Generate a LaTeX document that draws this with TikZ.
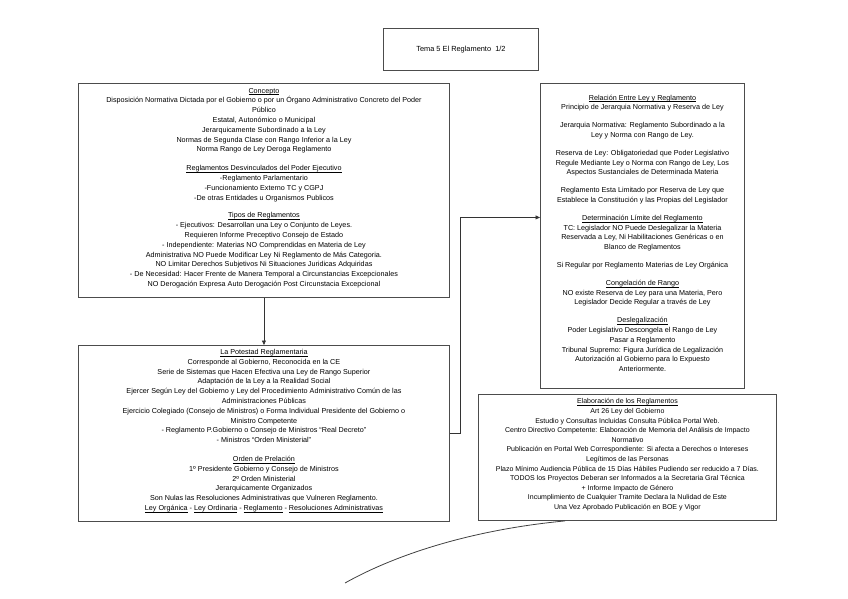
\documentclass[tikz,border=0pt]{standalone}
\usepackage{fontspec}
\setmainfont{Liberation Sans}
\usepackage{tikz}
\usetikzlibrary{arrows.meta, shadows, positioning}

\newcommand{\subr}[1]{\underline{\smash{#1}}}

\begin{document}
\begin{tikzpicture}[x=1pt, y=-1pt,
    caja/.style={draw=black!70, line width=0.9pt, fill=white, align=center,
        font=\fontsize{7.2}{9.8}\selectfont, inner sep=2pt,
        drop shadow={opacity=0.3, shadow xshift=0.8pt, shadow yshift=-0.8pt}},
    flecha/.style={black!80, line width=0.7pt, -{Triangle[length=4.5pt,width=4pt]}}]

    \useasboundingbox (0,0) rectangle (848,599);

    % Title
    \node[caja, anchor=north west, minimum width=155, minimum height=42,
        font=\fontsize{7.4}{9}\selectfont] (titulo) at (383,28)
        {Tema 5 El Reglamento \ 1/2};

    % Concepto box
    \node[caja, anchor=north west, minimum width=371, minimum height=214] (concepto) at (78,83)
        {\subr{Concepto}\\
        Disposición Normativa Dictada por el Gobierno o por un Órgano Administrativo Concreto del Poder\\
        Público\\
        Estatal, Autonómico o Municipal\\
        Jerarquicamente Subordinado a la Ley\\
        Normas de Segunda Clase con Rango Inferior a la Ley\\
        Norma Rango de Ley Deroga Reglamento\\[9pt]
        \subr{Reglamentos Desvinculados del Poder Ejecutivo}\\
        -Reglamento Parlamentario\\
        -Funcionamiento Externo TC y CGPJ\\
        -De otras Entidades u Organismos Publicos\\[8pt]
        \subr{Tipos de Reglamentos}\\
        - Ejecutivos: Desarrollan una Ley o Conjunto de Leyes.\\
        Requieren Informe Preceptivo Consejo de Estado\\
        - Independiente: Materias NO Comprendidas en Materia de Ley\\
        Administrativa NO Puede Modificar Ley Ni Reglamento de Más Categoria.\\
        NO Limitar Derechos Subjetivos Ni Situaciones Juridicas Adquiridas\\
        - De Necesidad: Hacer Frente de Manera Temporal a Circunstancias Excepcionales\\
        NO Derogación Expresa Auto Derogación Post Circunstacia Excepcional};

    % Potestad box
    \node[caja, anchor=north west, minimum width=371, minimum height=176] (potestad) at (78,345)
        {\subr{La Potestad Reglamentaria}\\
        Corresponde al Gobierno, Reconocida en la CE\\
        Serie de Sistemas que Hacen Efectiva una Ley de Rango Superior\\
        Adaptación de la Ley a la Realidad Social\\
        Ejercer Según Ley del Gobierno y Ley del Procedimiento Administrativo Común de las\\
        Administraciones Públicas\\
        Ejercicio Colegiado (Consejo de Ministros) o Forma Individual Presidente del Gobierno o\\
        Ministro Competente\\
        - Reglamento P.Gobierno o Consejo de Ministros ``Real Decreto''\\
        - Ministros ``Orden Ministerial''\\[9pt]
        \subr{Orden de Prelación}\\
        1º Presidente Gobierno y Consejo de Ministros\\
        2º Orden Ministerial\\
        Jerarquicamente Organizados\\
        Son Nulas las Resoluciones Administrativas que Vulneren Reglamento.\\
        \subr{Ley Orgánica} - \subr{Ley Ordinaria} - \subr{Reglamento} - \subr{Resoluciones Administrativas}};

    % Relacion box
    \node[caja, anchor=north west, minimum width=204, minimum height=305] (relacion) at (540,83)
        {\subr{Relación Entre Ley y Reglamento}\\
        Principio de Jerarquia Normativa y Reserva de Ley\\[8pt]
        Jerarquia Normativa: Reglamento Subordinado a la\\
        Ley y Norma con Rango de Ley.\\[8pt]
        Reserva de Ley: Obligatoriedad que Poder Legislativo\\
        Regule Mediante Ley o Norma con Rango de Ley, Los\\
        Aspectos Sustanciales de Determinada Materia\\[8pt]
        Reglamento Esta Limitado por Reserva de Ley que\\
        Establece la Constitución y las Propias del Legislador\\[8pt]
        \subr{Determinación Límite del Reglamento}\\
        TC: Legislador NO Puede Deslegalizar la Materia\\
        Reservada a Ley, Ni Habilitaciones Genéricas o en\\
        Blanco de Reglamentos\\[8pt]
        Si Regular por Reglamento Materias de Ley Orgánica\\[8pt]
        \subr{Congelación de Rango}\\
        NO existe Reserva de Ley para una Materia, Pero\\
        Legislador Decide Regular a través de Ley\\[8pt]
        \subr{Deslegalización}\\
        Poder Legislativo Descongela el Rango de Ley\\
        Pasar a Reglamento\\
        Tribunal Supremo: Figura Jurídica de Legalización\\
        Autorización al Gobierno para lo Expuesto\\
        Anteriormente.};

    % Elaboracion box
    \node[caja, anchor=north west, minimum width=298, minimum height=126,
        font=\fontsize{7}{9.6}\selectfont] (elab) at (478,394)
        {\subr{Elaboración de los Reglamentos}\\
        Art 26 Ley del Gobierno\\
        Estudio y Consultas Incluidas Consulta Pública Portal Web.\\
        Centro Directivo Competente: Elaboración de Memoria del Análisis de Impacto\\
        Normativo\\
        Publicación en Portal Web Correspondiente: Si afecta a Derechos o Intereses\\
        Legítimos de las Personas\\
        Plazo Mínimo Audiencia Pública de 15 Días Hábiles Pudiendo ser reducido a 7 Días.\\
        TODOS los Proyectos Deberan ser Informados a la Secretaria Gral Técnica\\
        + Informe Impacto de Género\\
        Incumplimiento de Cualquier Tramite Declara la Nulidad de Este\\
        Una Vez Aprobado Publicación en BOE y Vigor};

    % Connectors
    \draw[flecha] (concepto.south) -- (potestad.north);
    \draw[flecha] (potestad.east) -- ++(10,0) |- ([yshift=18.5pt]relacion.west);

    % Loose curve under the boxes
    \coordinate (cola) at (345,583);
    \coordinate (cx) at (565,0);
    \draw[black!75, line width=0.8pt] (cola) .. controls (395,555) and (470,530) .. (elab.south -| cx);
\end{tikzpicture}
\end{document}
